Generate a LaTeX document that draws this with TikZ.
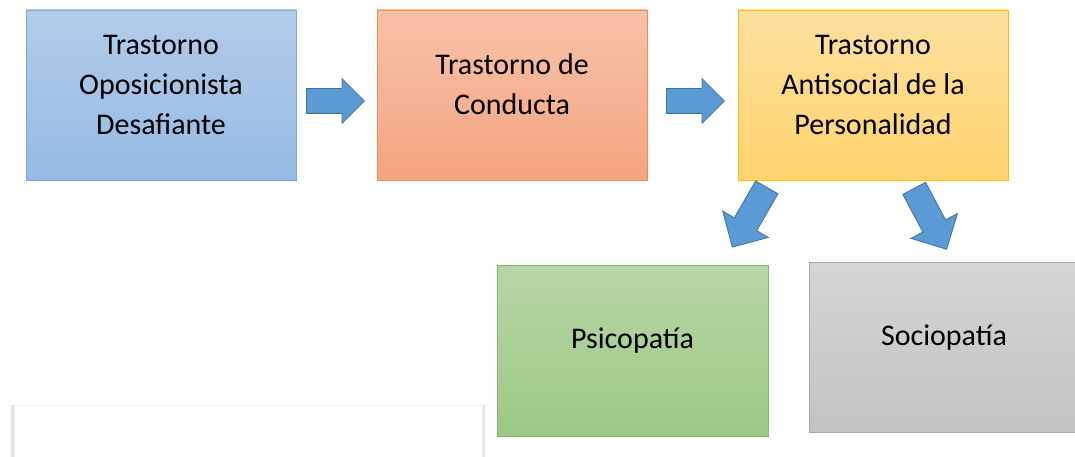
\documentclass[tikz,border=0pt]{standalone}
\usepackage{fontspec}
\setmainfont{Carlito}
\usetikzlibrary{shapes.arrows,shadows}

\definecolor{azulA}{RGB}{178,204,234}
\definecolor{azulB}{RGB}{150,186,228}
\definecolor{azulC}{RGB}{126,168,219}
\definecolor{naranjaA}{RGB}{247,194,168}
\definecolor{naranjaB}{RGB}{244,164,128}
\definecolor{naranjaC}{RGB}{240,140,86}
\definecolor{amarilloA}{RGB}{255,224,160}
\definecolor{amarilloB}{RGB}{255,211,108}
\definecolor{amarilloC}{RGB}{255,192,0}
\definecolor{verdeA}{RGB}{182,214,166}
\definecolor{verdeB}{RGB}{156,201,133}
\definecolor{verdeC}{RGB}{130,186,96}
\definecolor{grisA}{RGB}{213,213,213}
\definecolor{grisB}{RGB}{195,195,195}
\definecolor{grisC}{RGB}{168,168,168}
\definecolor{flechaF}{RGB}{91,155,213}
\definecolor{flechaB}{RGB}{65,113,156}

\newcommand{\letraCaja}{\fontsize{30}{40}\selectfont}

\begin{document}
\begin{tikzpicture}[x=1pt,y=-1pt]


\tikzset{caja/.style={rectangle,minimum width=270pt,minimum height=170pt,inner sep=0pt,align=center,font=\letraCaja,text=black,line width=0.8pt},}
\tikzset{tres/.style={text height=100pt,text depth=20pt},}
\tikzset{dos/.style={text height=60pt,text depth=20pt},}
\tikzset{una/.style={text height=20pt,text depth=24pt},}
\tikzset{hoja/.style={rectangle,minimum width=468pt,minimum height=80pt,fill=white,draw=black!6,line width=0.6pt,drop shadow={shadow xshift=0pt,shadow yshift=0pt,shadow scale=1.012,opacity=0.22}},}
\tikzset{flecha/.style={single arrow,anchor=tail,draw=flechaB,fill=flechaF,line width=0.8pt,inner xsep=0pt,inner ysep=12pt,single arrow head extend=10pt,minimum height=58pt},}
\tikzset{flechaDiag/.style={flecha,inner ysep=12.5pt,single arrow head extend=13.5pt,minimum height=69pt},}

\useasboundingbox (0,0) rectangle (1075,457);

	\draw
		(248,445) node[hoja] (hoja) {}
		(161,95) node[caja,tres,top color=azulA,bottom color=azulB,draw=azulC] (tod) {Trastorno\\Oposicionista\\Desafiante}
		(512,95) node[caja,dos,top color=naranjaA,bottom color=naranjaB,draw=naranjaC] (tc) {Trastorno de\\Conducta}
		(873,95) node[caja,tres,top color=amarilloA,bottom color=amarilloB,draw=amarilloC] (tap) {Trastorno\\Antisocial de la\\Personalidad}
		(632.5,350.5) node[caja,una,minimum width=271pt,minimum height=171pt,top color=verdeA,bottom color=verdeB,draw=verdeC] (psico) {Psicopatía}
		(944,347.5) node[caja,una,top color=grisA,bottom color=grisB,draw=grisC] (socio) {Sociopatía};

	\draw
		(306,101) node[flecha] (f1) {}
		(666,101) node[flecha] (f2) {}
		(767,187) node[flechaDiag,rotate=-120] (f3) {}
		(914,188) node[flechaDiag,rotate=-62] (f4) {};

\end{tikzpicture}
\end{document}
